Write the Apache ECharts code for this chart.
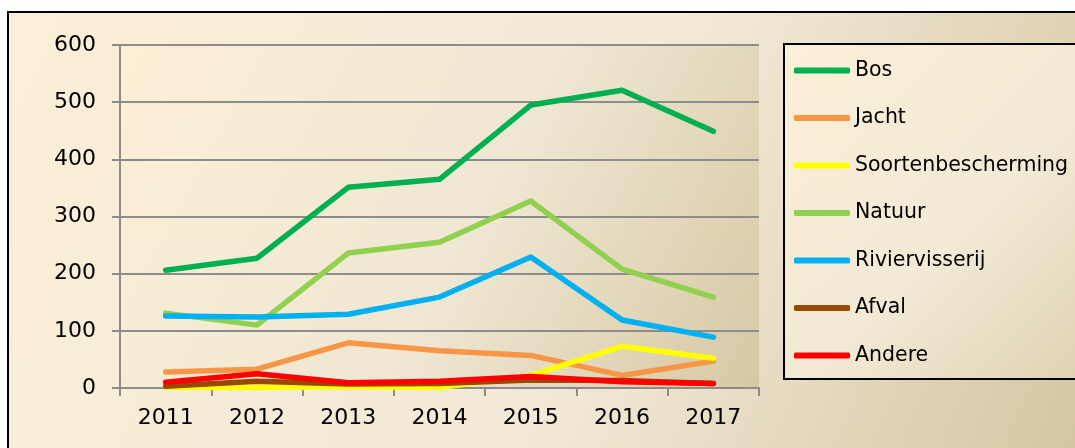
<!DOCTYPE html>
<html>
<head>
<meta charset="utf-8">
<script src="https://cdn.jsdelivr.net/npm/echarts@6/dist/echarts.min.js"></script>
<style>
  html, body { margin: 0; padding: 0; background: #fff; }
  #chart { width: 1075px; height: 448px; }
</style>
</head>
<body>
<div id="chart"></div>
<script>
// 数据
const years = ['2011', '2012', '2013', '2014', '2015', '2016', '2017'];
const bos = [206, 227, 351, 365, 495, 521, 449];
const jacht = [28, 33, 79, 65, 57, 22, 47];
const soortenbescherming = [1, 1, 2, 1, 22, 73, 52];
const natuur = [131, 110, 236, 255, 327, 208, 159];
const riviervisserij = [126, 124, 129, 159, 229, 119, 89];
const afval = [3, 12, 7, 8, 14, 13, 8];
const andere = [10, 25, 9, 12, 20, 11, 8];
const yTicks = { min: 0, max: 600, interval: 100 };

const seriesList = [
    { name: 'Bos', data: bos, color: '#00B050' },
    { name: 'Jacht', data: jacht, color: '#F79646' },
    { name: 'Soortenbescherming', data: soortenbescherming, color: '#FFFF00' },
    { name: 'Natuur', data: natuur, color: '#92D050' },
    { name: 'Riviervisserij', data: riviervisserij, color: '#00B0F0' },
    { name: 'Afval', data: afval, color: '#984807' },
    { name: 'Andere', data: andere, color: '#FF0000' }
];

const font = 'DejaVu Sans';

function parchment(c0, c1, c2) {
    return new echarts.graphic.LinearGradient(0, 0, 1, 1, [
        { offset: 0, color: c0 },
        { offset: 0.55, color: c1 },
        { offset: 1, color: c2 }
    ]);
}

const dom = document.getElementById('chart');
const myChart = echarts.init(dom);

const option = {
    animation: false,
    backgroundColor: '#fff',
    graphic: [{
        type: 'rect',
        z: -10,
        shape: { x: 8, y: 12, width: 1100, height: 480 },
        style: {
            fill: parchment('#FCEFD7', '#F1E9D6', '#D3C39D'),
            stroke: '#000',
            lineWidth: 2
        }
    }],
    legend: {
        orient: 'vertical',
        left: 784,
        top: 44,
        padding: [16, 40, 13, 10],
        itemGap: 26.5,
        itemWidth: 56,
        itemHeight: 6,
        icon: 'roundRect',
        backgroundColor: parchment('#FCEFD7', '#F2EAD6', '#DDD0AE'),
        borderColor: '#000',
        borderWidth: 2,
        textStyle: { fontFamily: font, fontSize: 20.5, color: '#000' },
        data: seriesList.map(s => s.name)
    },
    grid: {
        left: 120,
        top: 45,
        right: 316,
        bottom: 60,
        show: true,
        borderWidth: 0,
        backgroundColor: parchment('#FCEFD6', '#EFE7D3', '#D6C8A4')
    },
    xAxis: {
        type: 'category',
        data: years,
        boundaryGap: true,
        axisLine: { lineStyle: { color: '#8C8C8C', width: 2 } },
        axisTick: { show: true, length: 8, lineStyle: { color: '#8C8C8C', width: 2 } },
        axisLabel: { fontFamily: font, fontSize: 22, color: '#000', margin: 19 },
        splitLine: { show: false }
    },
    yAxis: {
        type: 'value',
        min: yTicks.min,
        max: yTicks.max,
        interval: yTicks.interval,
        axisLine: { show: true, lineStyle: { color: '#8C8C8C', width: 2 } },
        axisTick: { show: true, length: 8, lineStyle: { color: '#8C8C8C', width: 2 } },
        axisLabel: { fontFamily: font, fontSize: 22, color: '#000', margin: 24 },
        splitLine: { show: true, lineStyle: { color: '#8C8C8C', width: 2 } }
    },
    series: seriesList.map(s => ({
        name: s.name,
        type: 'line',
        data: s.data,
        showSymbol: false,
        symbol: 'none',
        itemStyle: { color: s.color },
        lineStyle: { color: s.color, width: 5.5, cap: 'round', join: 'round' }
    }))
};

myChart.setOption(option);

window.addEventListener('resize', function () {
    myChart.resize();
});
</script>
</body>
</html>
